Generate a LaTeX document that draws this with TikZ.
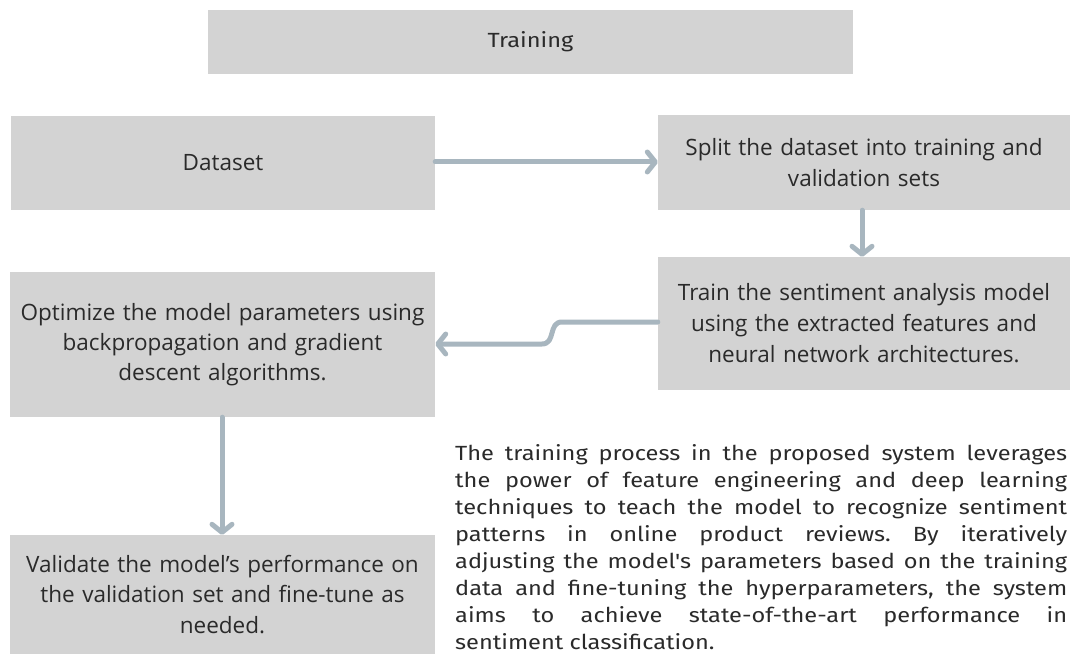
\documentclass[tikz,border=0pt]{standalone}
\usepackage{fontspec}
\setmainfont{Open Sans}
\newfontfamily\parafont[FakeStretch=1.15]{Fira Sans}
\usetikzlibrary{arrows.meta}
\definecolor{boxgray}{HTML}{D3D3D3}
\definecolor{arrowblue}{HTML}{A8B6BF}
\definecolor{textdark}{HTML}{2A2A2A}
\newcommand{\apos}{{\char"27}}
\newcommand{\nohyph}{\hyphenpenalty=10000\relax}
\begin{document}
\begin{tikzpicture}[x=1pt,y=-1pt,
  box/.style={fill=boxgray,draw=none,inner sep=0pt,align=center,text=textdark,
    font=\fontsize{22.5}{31}\selectfont},
  conn/.style={draw=arrowblue,line width=5pt,line cap=round,line join=round,
    -{Straight Barb[length=8pt,width=20pt,line cap=round,line join=round]}}
  ]
\useasboundingbox (0,0) rectangle (1078,655);
\node[box,minimum width=645pt,minimum height=64pt,font=\parafont\fontsize{20.5}{24}\selectfont] (title) at (530.5,42) {Training};
\node[box,minimum width=424pt,minimum height=94pt] (data) at (223,163) {Dataset};
\node[box,minimum width=412pt,minimum height=95pt,text width=405pt] (split) at (864,162.5) {Split the dataset into training and\\validation sets};
\node[box,minimum width=412pt,minimum height=133pt,text width=405pt] (trainm) at (864,323.5) {Train the sentiment analysis model\\using the extracted features and\\neural network architectures.};
\node[box,minimum width=425pt,minimum height=145pt,text width=418pt,font=\fontsize{22.5}{30}\selectfont] (opt) at (222.5,344.5) {Optimize the model parameters using\\backpropagation and gradient\\descent algorithms.};
\node[box,minimum width=425pt,minimum height=119pt,text width=418pt,font=\fontsize{22.5}{30.5}\selectfont] (val) at (222.5,594.5) {Validate the model\apos s performance on\\the validation set and fine-tune as\\needed.};
\node[anchor=north west,inner sep=0pt,text width=612pt,align=justify,text=textdark,
  font=\parafont\fontsize{20.5}{27}\selectfont\frenchspacing] (para) at (455,444)
  {\nohyph The training process in the proposed system leverages\linebreak
   the power of feature engineering and deep learning\linebreak
   techniques to teach the model to recognize sentiment\linebreak
   patterns in online product reviews. By iteratively\linebreak
   adjusting the model\apos s parameters based on the training\linebreak
   data and fine-tuning the hyperparameters, the system\linebreak
   aims to achieve state-of-the-art performance in\linebreak
   sentiment classification.};
\coordinate (t1) at (trainm.west |- 0,322);
\coordinate (o1) at (opt.east |- 0,344);
\draw[conn] (data.east |- 0,162) -- (split.west |- 0,162);
\draw[conn] (split.south -| 862,0) -- (trainm.north -| 862,0);
\draw[conn] (t1) -- (562,322) .. controls (548,322) and (556,344) .. (542,344) -- (o1);
\draw[conn] (opt.south -| 222,0) -- (val.north -| 222,0);
\end{tikzpicture}
\end{document}
